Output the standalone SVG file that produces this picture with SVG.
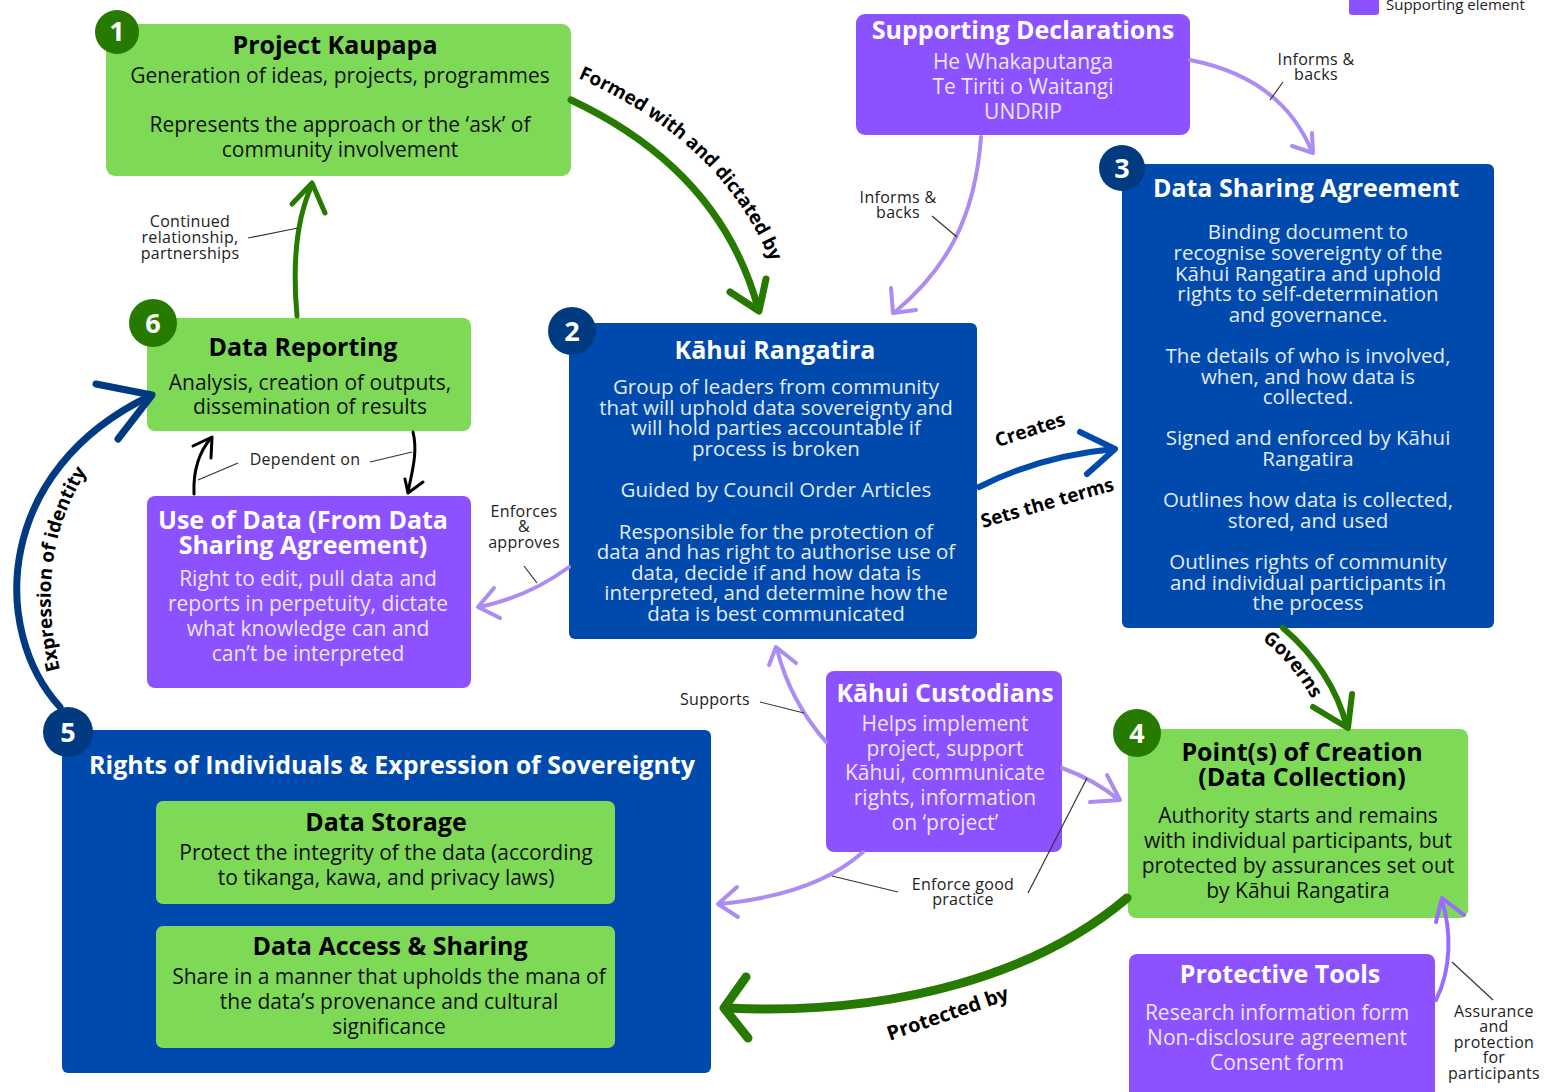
<svg xmlns="http://www.w3.org/2000/svg" width="1546" height="1092" viewBox="0 0 1546 1092">
<defs>
<style>
text{font-family:"Open Sans","Liberation Sans",sans-serif;text-anchor:middle}
.green{fill:#7ED957}
.blue{fill:#004AAD}
.purple{fill:#8C52FF}
.bdg{fill:#267A00}
.bdb{fill:#003A80}
.num{fill:#fff;font-size:27px;font-weight:700}
.tb{fill:#000;font-size:25px;font-weight:700}
.tw{fill:#fff;font-size:25px;font-weight:700}
.bb{fill:#111;font-size:21px}
.bl{fill:#E3EAF8;font-size:20.5px}
.bp{fill:#EDE3FF;font-size:21px}
.lab{fill:#222;font-size:16px;letter-spacing:0.3px}
.cl{fill:#000;font-size:19px;font-weight:700}
.lead{stroke:#333;stroke-width:1.2;fill:none}
.ag{stroke:#267A00;fill:none;stroke-linecap:round;stroke-linejoin:round}
.ap{stroke:#AC8CF2;stroke-width:4;fill:none;stroke-linecap:round;stroke-linejoin:round}
.ab{stroke:#004AAD;stroke-width:6;fill:none;stroke-linecap:round;stroke-linejoin:round}
.an{stroke:#003A80;stroke-width:7;fill:none;stroke-linecap:round;stroke-linejoin:round}
.ak{stroke:#000;stroke-width:3;fill:none;stroke-linecap:round;stroke-linejoin:round}
</style>
<path id="pFormed" d="M578,78 Q742,150 784,300"/>
<path id="pExpr" d="M60,670 C40,590 50,505 112,440"/>
<path id="pGov" d="M1262,640 Q1295,665 1318,710"/>
</defs>

<!-- legend -->
<g id="legend">
<rect x="1349" y="-4" width="30" height="19" rx="3" class="purple"/>
<text x="1386" y="10" style="text-anchor:start;font-size:15px;fill:#222">Supporting element</text>
</g>

<!-- Node 1 -->
<g id="n1">
<rect x="106" y="24" width="465" height="152" rx="9" class="green"/>
<circle cx="117" cy="32" r="22" class="bdg"/>
<text class="num" x="117" y="41">1</text>
<text class="tb" x="335" y="54">Project Kaupapa</text>
<text class="bb" x="340" y="83">Generation of ideas, projects, programmes</text>
<text class="bb" x="340" y="132">Represents the approach or the ‘ask’ of</text>
<text class="bb" x="340" y="157">community involvement</text>
</g>

<!-- Supporting Declarations -->
<g id="nDecl">
<rect x="856" y="14" width="334" height="121" rx="9" class="purple"/>
<text class="tw" x="1023" y="39">Supporting Declarations</text>
<text class="bp" x="1023" y="69">He Whakaputanga</text>
<text class="bp" x="1023" y="94">Te Tiriti o Waitangi</text>
<text class="bp" x="1023" y="119">UNDRIP</text>
</g>

<!-- Node 3 -->
<g id="n3">
<rect x="1122" y="164" width="372" height="464" rx="6" class="blue"/>
<circle cx="1122" cy="168" r="23" class="bdb"/>
<text class="num" x="1122" y="178">3</text>
<text class="tw" x="1306" y="197">Data Sharing Agreement</text>
<text class="bl" x="1308" y="239">Binding document to</text>
<text class="bl" x="1308" y="260">recognise sovereignty of the</text>
<text class="bl" x="1308" y="281">Kāhui Rangatira and uphold</text>
<text class="bl" x="1308" y="301">rights to self-determination</text>
<text class="bl" x="1308" y="322">and governance.</text>
<text class="bl" x="1308" y="363">The details of who is involved,</text>
<text class="bl" x="1308" y="384">when, and how data is</text>
<text class="bl" x="1308" y="404">collected.</text>
<text class="bl" x="1308" y="445">Signed and enforced by Kāhui</text>
<text class="bl" x="1308" y="466">Rangatira</text>
<text class="bl" x="1308" y="507">Outlines how data is collected,</text>
<text class="bl" x="1308" y="528">stored, and used</text>
<text class="bl" x="1308" y="569">Outlines rights of community</text>
<text class="bl" x="1308" y="590">and individual participants in</text>
<text class="bl" x="1308" y="610">the process</text>
</g>

<!-- Node 2 -->
<g id="n2">
<rect x="569" y="323" width="408" height="316" rx="6" class="blue"/>
<circle cx="572" cy="331" r="24" class="bdb"/>
<text class="num" x="572" y="341">2</text>
<text class="tw" x="775" y="359">Kāhui Rangatira</text>
<text class="bl" x="776" y="394">Group of leaders from community</text>
<text class="bl" x="776" y="415">that will uphold data sovereignty and</text>
<text class="bl" x="776" y="435">will hold parties accountable if</text>
<text class="bl" x="776" y="456">process is broken</text>
<text class="bl" x="776" y="497">Guided by Council Order Articles</text>
<text class="bl" x="776" y="539">Responsible for the protection of</text>
<text class="bl" x="776" y="559">data and has right to authorise use of</text>
<text class="bl" x="776" y="580">data, decide if and how data is</text>
<text class="bl" x="776" y="600">interpreted, and determine how the</text>
<text class="bl" x="776" y="621">data is best communicated</text>
</g>

<!-- Node 6 -->
<g id="n6">
<rect x="147" y="318" width="324" height="113" rx="8" class="green"/>
<circle cx="153" cy="323" r="24" class="bdg"/>
<text class="num" x="153" y="333">6</text>
<text class="tb" x="303" y="356">Data Reporting</text>
<text class="bb" x="310" y="390">Analysis, creation of outputs,</text>
<text class="bb" x="310" y="414">dissemination of results</text>
</g>

<!-- Use of Data -->
<g id="nUse">
<rect x="147" y="496" width="324" height="192" rx="8" class="purple"/>
<text class="tw" x="303" y="529">Use of Data (From Data</text>
<text class="tw" x="303" y="554">Sharing Agreement)</text>
<text class="bp" x="308" y="586">Right to edit, pull data and</text>
<text class="bp" x="308" y="611">reports in perpetuity, dictate</text>
<text class="bp" x="308" y="636">what knowledge can and</text>
<text class="bp" x="308" y="661">can’t be interpreted</text>
</g>

<!-- Node 5 -->
<g id="n5">
<rect x="62" y="730" width="649" height="343" rx="6" class="blue"/>
<circle cx="68" cy="732" r="25" class="bdb"/>
<text class="num" x="68" y="742">5</text>
<text class="tw" x="392" y="774">Rights of Individuals &amp; Expression of Sovereignty</text>
<rect x="156" y="801" width="459" height="103" rx="7" class="green"/>
<text class="tb" x="386" y="831">Data Storage</text>
<text class="bb" x="386" y="860">Protect the integrity of the data (according</text>
<text class="bb" x="386" y="885">to tikanga, kawa, and privacy laws)</text>
<rect x="156" y="926" width="459" height="122" rx="7" class="green"/>
<text class="tb" x="390" y="955">Data Access &amp; Sharing</text>
<text class="bb" x="389" y="984">Share in a manner that upholds the mana of</text>
<text class="bb" x="389" y="1009">the data’s provenance and cultural</text>
<text class="bb" x="389" y="1034">significance</text>
</g>

<!-- Kahui Custodians -->
<g id="nCust">
<rect x="826" y="671" width="236" height="181" rx="8" class="purple"/>
<text class="tw" x="945" y="702">Kāhui Custodians</text>
<text class="bp" x="945" y="731">Helps implement</text>
<text class="bp" x="945" y="756">project, support</text>
<text class="bp" x="945" y="780">Kāhui, communicate</text>
<text class="bp" x="945" y="805">rights, information</text>
<text class="bp" x="945" y="830">on ‘project’</text>
</g>

<!-- Node 4 -->
<g id="n4">
<rect x="1128" y="729" width="340" height="189" rx="8" class="green"/>
<circle cx="1137" cy="733" r="24" class="bdg"/>
<text class="num" x="1137" y="743">4</text>
<text class="tb" x="1302" y="761">Point(s) of Creation</text>
<text class="tb" x="1302" y="786">(Data Collection)</text>
<text class="bb" x="1298" y="823">Authority starts and remains</text>
<text class="bb" x="1298" y="848">with individual participants, but</text>
<text class="bb" x="1298" y="873">protected by assurances set out</text>
<text class="bb" x="1298" y="898">by Kāhui Rangatira</text>
</g>

<!-- Protective Tools -->
<g id="nTools">
<rect x="1129" y="954" width="306" height="150" rx="8" class="purple"/>
<text class="tw" x="1280" y="983">Protective Tools</text>
<text class="bp" x="1277" y="1020">Research information form</text>
<text class="bp" x="1277" y="1045">Non-disclosure agreement</text>
<text class="bp" x="1277" y="1070">Consent form</text>
</g>

<g id="connectors">
<!-- Formed with and dictated by -->
<path class="ag" stroke-width="7" d="M571,100 Q720,170 758,308"/>
<path class="ag" stroke-width="7" d="M730,292 L759,311 L766,279"/>
<text class="cl"><textPath href="#pFormed" startOffset="0" style="text-anchor:start">Formed with and dictated by</textPath></text>

<!-- Continued relationship -->
<path class="ag" stroke-width="5" d="M297,316 C292,260 298,215 312,185"/>
<path class="ag" stroke-width="5" d="M292,204 L312,183 L325,213"/>
<path class="lead" d="M248,238 L298,228"/>
<text class="lab" x="190" y="227">Continued</text>
<text class="lab" x="190" y="243">relationship,</text>
<text class="lab" x="190" y="259">partnerships</text>

<!-- Supporting Declarations -> Kahui Rangatira -->
<path class="ap" d="M981,137 C975,220 945,270 895,312"/>
<path class="ap" d="M891,288 L893,313 L916,310"/>
<path class="lead" d="M932,216 L957,237"/>
<text class="lab" x="898" y="203">Informs &amp;</text>
<text class="lab" x="898" y="218">backs</text>

<!-- Supporting Declarations -> DSA -->
<path class="ap" d="M1190,60 Q1282,78 1312,152"/>
<path class="ap" d="M1292,146 L1313,153 L1312,133"/>
<path class="lead" d="M1283,82 L1270,100"/>
<text class="lab" x="1316" y="65">Informs &amp;</text>
<text class="lab" x="1316" y="80">backs</text>

<!-- Creates / Sets the terms -->
<path class="ab" d="M979,487 Q1040,456 1114,449"/>
<path class="ab" d="M1080,432 L1115,449 L1087,474"/>
<text class="cl" transform="translate(1032,436) rotate(-18)">Creates</text>
<text class="cl" transform="translate(1049,509) rotate(-16)">Sets the terms</text>

<!-- Governs -->
<path class="ag" stroke-width="6" d="M1283,628 Q1332,670 1347,727"/>
<path class="ag" stroke-width="6" d="M1313,707 L1348,728 L1352,694"/>
<text class="cl"><textPath href="#pGov" style="text-anchor:start">Governs</textPath></text>

<!-- Enforces & approves -->
<path class="ap" d="M569,567 Q530,596 480,607"/>
<path class="ap" d="M494,588 L478,607 L500,618"/>
<path class="lead" d="M524,566 L537,583"/>
<text class="lab" x="524" y="517">Enforces</text>
<text class="lab" x="524" y="532">&amp;</text>
<text class="lab" x="524" y="548">approves</text>

<!-- Dependent on -->
<path class="ak" d="M194,494 C193,470 199,452 211,438"/>
<path class="ak" d="M193,446 L212,437 L211,458"/>
<path class="ak" d="M413,432 C418,452 412,472 408,492"/>
<path class="ak" d="M405,479 L408,493 L423,482"/>
<path class="lead" d="M238,463 L198,480"/>
<path class="lead" d="M370,462 L412,452"/>
<text class="lab" x="305" y="465">Dependent on</text>

<!-- Supports -->
<path class="ap" d="M826,742 C800,712 785,682 777,649"/>
<path class="ap" d="M769,665 L776,647 L796,663"/>
<path class="lead" d="M760,702 L804,713"/>
<text class="lab" x="715" y="705">Supports</text>

<!-- Custodians -> Point of creation -->
<path class="ap" d="M1062,768 Q1095,780 1119,800"/>
<path class="ap" d="M1090,802 L1120,800 L1107,775"/>

<!-- Custodians -> Node 5 -->
<path class="ap" d="M863,852 Q815,895 719,904"/>
<path class="ap" d="M737,887 L718,904 L738,917"/>
<path class="lead" d="M832,876 L898,892"/>
<path class="lead" d="M1028,893 L1087,778"/>
<text class="lab" x="963" y="890">Enforce good</text>
<text class="lab" x="963" y="905">practice</text>

<!-- Protected by -->
<path class="ag" stroke-width="9" d="M1127,898 C1040,972 900,1016 727,1008"/>
<path class="ag" stroke-width="9" d="M746,977 L724,1008 L748,1038"/>
<text class="cl" style="font-size:20px" transform="translate(950,1020) rotate(-19)">Protected by</text>

<!-- Protective tools -> Point of creation -->
<path class="ap" d="M1436,1000 C1452,968 1451,930 1442,900" style="stroke:#9B6BFF"/>
<path class="ap" d="M1436,922 L1442,898 L1464,915" style="stroke:#9B6BFF"/>
<path class="lead" d="M1452,962 L1493,1000"/>
<text class="lab" x="1494" y="1017">Assurance</text>
<text class="lab" x="1494" y="1032">and</text>
<text class="lab" x="1494" y="1048">protection</text>
<text class="lab" x="1494" y="1063">for</text>
<text class="lab" x="1494" y="1079">participants</text>

<!-- Expression of identity -->
<path class="an" d="M60,707 C-10,630 -5,470 150,396"/>
<path class="an" d="M96,384 L152,395 L118,439"/>
<text class="cl"><textPath href="#pExpr" style="text-anchor:start">Expression of identity</textPath></text>
</g>
</svg>
